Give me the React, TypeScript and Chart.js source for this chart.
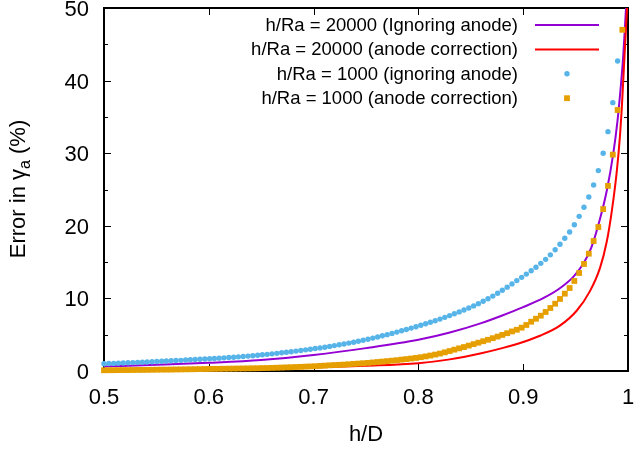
import { useEffect, useRef } from "react";
import { Chart, registerables } from "chart.js";

Chart.register(...registerables);

// h/D sample positions of the h/Ra = 1000 series
const hD = [
  0.5, 0.5046, 0.5092, 0.5137, 0.5183, 0.5229, 0.5275, 0.5321, 0.5366, 0.5412,
  0.5458, 0.5504, 0.555, 0.5595, 0.5641, 0.5687, 0.5733, 0.5779, 0.5824, 0.587,
  0.5916, 0.5962, 0.6008, 0.6053, 0.6099, 0.6145, 0.6191, 0.6237, 0.6282, 0.6328,
  0.6374, 0.642, 0.6466, 0.6511, 0.6557, 0.6603, 0.6649, 0.6695, 0.674, 0.6786,
  0.6832, 0.6878, 0.6924, 0.6969, 0.7015, 0.7061, 0.7107, 0.7153, 0.7198, 0.7244,
  0.729, 0.7336, 0.7382, 0.7427, 0.7473, 0.7519, 0.7565, 0.7611, 0.7656, 0.7702,
  0.7748, 0.7794, 0.784, 0.7885, 0.7931, 0.7977, 0.8023, 0.8069, 0.8114, 0.816,
  0.8206, 0.8252, 0.8298, 0.8343, 0.8389, 0.8435, 0.8481, 0.8527, 0.8572, 0.8618,
  0.8664, 0.871, 0.8756, 0.8801, 0.8847, 0.8893, 0.8939, 0.8985, 0.903, 0.9076,
  0.9122, 0.9168, 0.9214, 0.9259, 0.9305, 0.9351, 0.9397, 0.9443, 0.9488, 0.9534,
  0.958, 0.9626, 0.9672, 0.9717, 0.9763, 0.9809, 0.9855, 0.9901, 0.9946,
];

// h/Ra = 1000 (ignoring anode)
const ignoring1000 = [
  1.0, 1.03, 1.05, 1.08, 1.1, 1.13, 1.16, 1.19, 1.22, 1.25,
  1.28, 1.31, 1.34, 1.38, 1.41, 1.44, 1.47, 1.51, 1.54, 1.58,
  1.61, 1.65, 1.69, 1.73, 1.77, 1.81, 1.86, 1.9, 1.95, 2.0,
  2.05, 2.11, 2.17, 2.23, 2.29, 2.36, 2.43, 2.51, 2.59, 2.66,
  2.74, 2.83, 2.91, 3.0, 3.09, 3.18, 3.28, 3.39, 3.5, 3.61,
  3.72, 3.84, 3.97, 4.1, 4.24, 4.38, 4.53, 4.69, 4.85, 5.01,
  5.18, 5.36, 5.54, 5.72, 5.91, 6.1, 6.3, 6.5, 6.71, 6.93,
  7.15, 7.39, 7.63, 7.88, 8.14, 8.4, 8.68, 8.97, 9.28, 9.61,
  9.95, 10.32, 10.71, 11.12, 11.55, 12.0, 12.45, 12.9, 13.35, 13.8,
  14.3, 14.83, 15.38, 16.0, 16.7, 17.45, 18.28, 19.15, 20.15, 21.3,
  22.55, 23.97, 25.62, 27.6, 30.0, 32.97, 36.96, 42.7,
];

// h/Ra = 1000 (anode correction)
const correction1000 = [
  0.1, 0.11, 0.11, 0.12, 0.13, 0.13, 0.14, 0.15, 0.15, 0.16,
  0.17, 0.18, 0.19, 0.19, 0.2, 0.21, 0.22, 0.23, 0.24, 0.25,
  0.26, 0.27, 0.28, 0.29, 0.3, 0.31, 0.32, 0.33, 0.34, 0.35,
  0.36, 0.37, 0.38, 0.4, 0.41, 0.43, 0.45, 0.47, 0.5, 0.52,
  0.55, 0.57, 0.6, 0.63, 0.66, 0.7, 0.74, 0.78, 0.82, 0.85,
  0.88, 0.93, 0.98, 1.02, 1.07, 1.12, 1.18, 1.24, 1.3, 1.36,
  1.42, 1.49, 1.57, 1.64, 1.72, 1.8, 1.9, 2.01, 2.13, 2.26,
  2.4, 2.57, 2.75, 2.94, 3.12, 3.3, 3.5, 3.7, 3.9, 4.1,
  4.3, 4.52, 4.74, 4.97, 5.21, 5.45, 5.68, 5.97, 6.34, 6.79,
  7.2, 7.62, 8.13, 8.68, 9.27, 9.92, 10.65, 11.43, 12.4, 13.5,
  14.74, 16.16, 17.9, 19.83, 22.3, 25.5, 29.8, 35.95, 47.0,
];

// h/Ra = 20000 (Ignoring anode)
const ign20000X = [0.5, 0.55, 0.6, 0.65, 0.7, 0.75, 0.8, 0.83, 0.86, 0.88, 0.9, 0.92, 0.935, 0.948, 0.957, 0.965, 0.973, 0.98, 0.986, 0.99, 0.993, 0.9955, 0.998, 0.999];
const ign20000Y = [0.62, 0.85, 1.12, 1.5, 2.2, 3.15, 4.3, 5.3, 6.6, 7.65, 8.8, 10.1, 11.4, 13.0, 14.7, 17.0, 20.8, 25.0, 30.0, 34.5, 39.0, 43.5, 49.7, 52.0];

// h/Ra = 20000 (anode correction)
const cor20000X = [0.5, 0.55, 0.6, 0.65, 0.7, 0.75, 0.8, 0.83, 0.86, 0.88, 0.9, 0.916, 0.935, 0.951, 0.9637, 0.9733, 0.9797, 0.9845, 0.9893, 0.9924, 0.994, 0.996, 0.998, 0.9997];
const cor20000Y = [0.05, 0.1, 0.18, 0.3, 0.48, 0.72, 1.08, 1.6, 2.45, 3.15, 4.0, 4.85, 6.25, 8.3, 11.0, 14.2, 17.8, 22.0, 27.5, 32.5, 36.0, 41.5, 47.0, 51.5];

const xTicks = [0.5, 0.6, 0.7, 0.8, 0.9, 1];
const xTickLabels = ["0.5", "0.6", "0.7", "0.8", "0.9", "1"];
const yTicks = [0, 10, 20, 30, 40, 50];
const yTickLabels = ["0", "10", "20", "30", "40", "50"];
const yMinorTicks = [5, 15, 25, 35, 45];

const seriesLabels = [
  "h/Ra = 20000 (Ignoring anode)",
  "h/Ra = 20000 (anode correction)",
  "h/Ra = 1000 (ignoring anode)",
  "h/Ra = 1000 (anode correction)",
];
const seriesColors = ["#9400d3", "#ff0000", "#56b4e9", "#e69f00"];

const FONT = '"Liberation Sans", Arial, sans-serif';

const framePlugin = {
  id: "gnuframe",
  beforeDatasetsDraw(chart: any) {
    const { ctx, chartArea: a, scales } = chart;
    const xs = scales.x;
    const ys = scales.y;
    ctx.save();
    ctx.strokeStyle = "#000";
    ctx.lineWidth = 1;
    ctx.beginPath();
    for (const v of yTicks) {
      const py = Math.round(ys.getPixelForValue(v)) + 0.5;
      ctx.moveTo(a.left, py);
      ctx.lineTo(a.left + 7, py);
      ctx.moveTo(a.right, py);
      ctx.lineTo(a.right - 7, py);
    }
    for (const v of yMinorTicks) {
      const py = Math.round(ys.getPixelForValue(v)) + 0.5;
      ctx.moveTo(a.left, py);
      ctx.lineTo(a.left + 4, py);
      ctx.moveTo(a.right, py);
      ctx.lineTo(a.right - 4, py);
    }
    for (const v of xTicks) {
      const px = Math.round(xs.getPixelForValue(v)) + 0.5;
      ctx.moveTo(px, a.bottom);
      ctx.lineTo(px, a.bottom - 7);
      ctx.moveTo(px, a.top);
      ctx.lineTo(px, a.top + 7);
    }
    ctx.stroke();
    ctx.lineWidth = 2;
    ctx.strokeRect(a.left, a.top, a.right - a.left, a.bottom - a.top);
    ctx.restore();
  },
  afterDraw(chart: any) {
    const { ctx, chartArea: a, scales } = chart;
    const xs = scales.x;
    const ys = scales.y;
    ctx.save();
    ctx.fillStyle = "#000";
    ctx.font = `22px ${FONT}`;
    // y tick labels
    ctx.textAlign = "right";
    ctx.textBaseline = "alphabetic";
    yTicks.forEach((v, i) => {
      const py = ys.getPixelForValue(v);
      ctx.fillText(yTickLabels[i], a.left - 15, py + 8);
    });
    // x tick labels
    ctx.textAlign = "center";
    xTicks.forEach((v, i) => {
      const px = xs.getPixelForValue(v);
      ctx.fillText(xTickLabels[i], px, 404);
    });
    // x title
    ctx.fillText("h/D", (a.left + a.right) / 2, 441);
    // y title with subscript
    ctx.save();
    ctx.translate(0, 189);
    ctx.rotate(-Math.PI / 2);
    const main = "Error in \u03b3";
    const sub = "a";
    const tail = " (%)";
    ctx.font = `22px ${FONT}`;
    const w1 = ctx.measureText(main).width;
    const w3 = ctx.measureText(tail).width;
    ctx.font = `16px ${FONT}`;
    const w2 = ctx.measureText(sub).width;
    let x0 = -(w1 + w2 + w3) / 2;
    ctx.textAlign = "left";
    ctx.font = `22px ${FONT}`;
    ctx.fillText(main, x0, 25);
    x0 += w1;
    ctx.font = `16px ${FONT}`;
    ctx.fillText(sub, x0, 30);
    x0 += w2;
    ctx.font = `22px ${FONT}`;
    ctx.fillText(tail, x0, 25);
    ctx.restore();

    // legend
    ctx.font = `18.5px ${FONT}`;
    ctx.textAlign = "right";
    ctx.textBaseline = "middle";
    const textRight = 518;
    const sx0 = 535;
    const sx1 = 599;
    const scx = 567;
    seriesLabels.forEach((label, i) => {
      const y = 25 + i * 24.4;
      ctx.fillStyle = "#000";
      ctx.fillText(label, textRight, y + 1);
      if (i < 2) {
        ctx.strokeStyle = seriesColors[i];
        ctx.lineWidth = 2;
        ctx.beginPath();
        ctx.moveTo(sx0, y);
        ctx.lineTo(sx1, y);
        ctx.stroke();
      } else if (i === 2) {
        ctx.fillStyle = seriesColors[i];
        ctx.beginPath();
        ctx.arc(scx, y, 2.7, 0, Math.PI * 2);
        ctx.fill();
      } else {
        ctx.fillStyle = seriesColors[i];
        ctx.fillRect(scx - 2.9, y - 2.9, 5.8, 5.8);
      }
    });
    ctx.restore();
  },
};

export default function App() {
  const ref = useRef<HTMLCanvasElement | null>(null);
  useEffect(() => {
    if (!ref.current) return;
    const chart = new Chart(ref.current, {
      type: "scatter",
      data: {
        datasets: [
          {
            label: seriesLabels[3],
            data: correction1000.map((y, i) => ({ x: hD[i], y })),
            pointStyle: "rect",
            pointRadius: 4.1,
            backgroundColor: seriesColors[3],
            borderWidth: 0,
            showLine: false,
            clip: false as any,
            order: 0,
          },
          {
            label: seriesLabels[2],
            data: ignoring1000.map((y, i) => ({ x: hD[i], y })),
            pointStyle: "circle",
            pointRadius: 2.7,
            backgroundColor: seriesColors[2],
            borderWidth: 0,
            showLine: false,
            clip: false as any,
            order: 1,
          },
          {
            label: seriesLabels[1],
            data: cor20000Y.map((y, i) => ({ x: cor20000X[i], y })),
            showLine: true,
            borderColor: seriesColors[1],
            borderWidth: 2,
            pointRadius: 0,
            cubicInterpolationMode: "monotone",
            order: 2,
          },
          {
            label: seriesLabels[0],
            data: ign20000Y.map((y, i) => ({ x: ign20000X[i], y })),
            showLine: true,
            borderColor: seriesColors[0],
            borderWidth: 2,
            pointRadius: 0,
            cubicInterpolationMode: "monotone",
            order: 3,
          },
        ],
      },
      options: {
        animation: false,
        responsive: false,
        devicePixelRatio: 1,
        layout: { padding: { left: 0, right: 8, top: 8, bottom: 0 } },
        plugins: {
          legend: { display: false },
          tooltip: { enabled: false },
        },
        scales: {
          x: {
            type: "linear",
            min: 0.5,
            max: 1,
            grid: { display: false, drawTicks: false },
            border: { display: false },
            ticks: { display: false },
            afterFit: (s: any) => {
              s.height = 79;
            },
          },
          y: {
            type: "linear",
            min: 0,
            max: 50,
            grid: { display: false, drawTicks: false },
            border: { display: false },
            ticks: { display: false },
            afterFit: (s: any) => {
              s.width = 104;
            },
          },
        },
      },
      plugins: [framePlugin],
    });
    return () => chart.destroy();
  }, []);
  return (
    <div style={{ position: "absolute", left: 0, top: 0, width: 636, height: 450, background: "#fff" }}>
      <canvas ref={ref} width={636} height={450} />
    </div>
  );
}
